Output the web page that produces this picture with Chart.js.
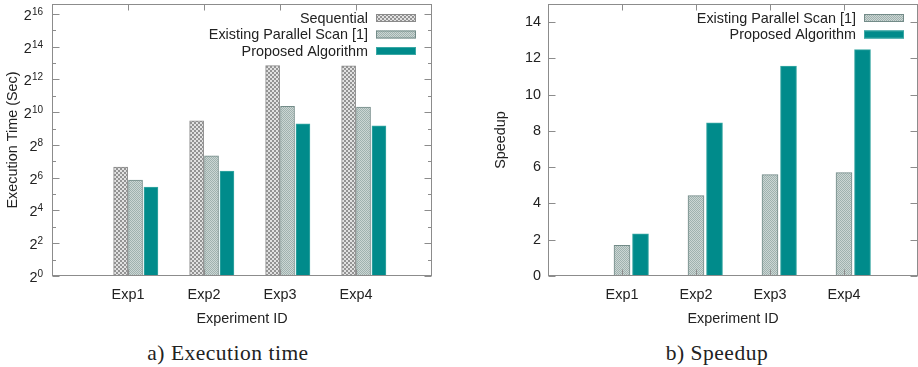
<!DOCTYPE html>
<html>
<head>
<meta charset="utf-8">
<script src="https://cdn.jsdelivr.net/npm/chart.js@4.4.1/dist/chart.umd.min.js"></script>
<style>
body { margin:0; background:#fff; width:918px; height:367px; position:relative; overflow:hidden; }
.box { position:absolute; top:0; }
.caption { position:absolute; top:342px; width:220px; text-align:center; line-height:22px;
  font-family:"Liberation Serif", serif; font-size:21.5px; letter-spacing:0.5px; color:#222; white-space:nowrap; }
</style>
</head>
<body>
<div class="box" style="left:0"><canvas id="timeChart" width="440" height="330"></canvas></div>
<div class="box" style="left:478px"><canvas id="speedChart" width="440" height="330"></canvas></div>
<div class="caption" style="left:118px">a) Execution time</div>
<div class="caption" style="left:607px">b) Speedup</div>
<script>
// values
const categories = ['Exp1', 'Exp2', 'Exp3', 'Exp4'];
const seqTime = [100, 714, 7350, 7330];
const existTime = [58, 162, 1310, 1280];
const propTime = [43, 85, 629, 577];
const existSpeedup = [1.69, 4.43, 5.59, 5.70];
const propSpeedup = [2.33, 8.45, 11.58, 12.48];
const timeExponents = [0,1,2,3,4,5,6,7,8,9,10,11,12,13,14,15,16]; // 2^e ticks, even ones labelled
const speedTicks = [0, 2, 4, 6, 8, 10, 12, 14];

const textColor = '#222';
const frameColor = '#8c8c8c';
const fontFamily = '"Liberation Sans", Arial, sans-serif';
const sansFont = { family: fontFamily, size: 14.4 };

// small checker tiles like gnuplot fill patterns
function makePattern(c1, c2, cell) {
    const p = document.createElement('canvas');
    p.width = cell * 2; p.height = cell * 2;
    const g = p.getContext('2d');
    g.fillStyle = c1; g.fillRect(0, 0, cell * 2, cell * 2);
    g.fillStyle = c2;
    g.fillRect(0, 0, cell, cell);
    g.fillRect(cell, cell, cell, cell);
    return g.createPattern(p, 'repeat');
}

const seqFill = makePattern('#e2e2e2', '#939393', 2);
const existFill = makePattern('#ccd6d4', '#9fb2af', 1);
const propFill = '#008b8b';

// frame with inward ticks, gnuplot style
const framePlugin = {
    id: 'frame',
    afterDatasetsDraw(chart, args, opts) {
        const ctx = chart.ctx, a = chart.chartArea;
        const L = Math.round(a.left) + 0.5, R = Math.round(a.right) - 0.5;
        const T = Math.round(a.top) + 0.5, B = Math.round(a.bottom) - 0.5;
        ctx.save();
        ctx.strokeStyle = frameColor;
        ctx.lineWidth = 1;
        ctx.beginPath();
        chart.scales.y.ticks.forEach(t => {
            const y = Math.round(chart.scales.y.getPixelForValue(t.value)) + 0.5;
            const len = opts.isMinor && opts.isMinor(t.value) ? 3.5 : 7;
            ctx.moveTo(L, y); ctx.lineTo(L + len, y);
            ctx.moveTo(R, y); ctx.lineTo(R - len, y);
        });
        chart.scales.x.ticks.forEach(t => {
            const x = Math.round(chart.scales.x.getPixelForValue(t.value)) + 0.5;
            ctx.moveTo(x, T); ctx.lineTo(x, T + 6);
            ctx.moveTo(x, B); ctx.lineTo(x, B - 6);
        });
        ctx.stroke();
        ctx.strokeRect(L, T, R - L, B - T);

        // power-of-two labels with a real superscript
        if (opts.powLabels) {
            chart.scales.y.ticks.forEach(t => {
                const e = Math.round(Math.log2(t.value));
                if (e % 2) return;
                const y = chart.scales.y.getPixelForValue(t.value);
                const right = a.left - 9;
                ctx.fillStyle = textColor;
                ctx.textAlign = 'right';
                ctx.textBaseline = 'alphabetic';
                ctx.font = '10px ' + fontFamily;
                const ew = ctx.measureText(String(e)).width;
                ctx.fillText(String(e), right, y + 0.8);
                ctx.font = '14.4px ' + fontFamily;
                ctx.fillText('2', right - ew, y + 6);
            });
        }
        ctx.restore();
    }
};

// legend: right aligned text, sample box to its right
const keyPlugin = {
    id: 'key',
    afterDraw(chart, args, opts) {
        const ctx = chart.ctx, a = chart.chartArea;
        const boxRight = a.right - opts.rightGap;
        ctx.save();
        ctx.font = '14.4px ' + fontFamily;
        ctx.textAlign = 'right';
        ctx.textBaseline = 'middle';
        chart.data.datasets.forEach((ds, i) => {
            const y = a.top + 14 + i * 16.5;
            ctx.fillStyle = textColor;
            ctx.fillText(ds.label, boxRight - 48, y + 1);
            ctx.fillStyle = ds.backgroundColor;
            ctx.fillRect(boxRight - 40, y - 4, 40, 8);
            ctx.strokeStyle = ds.borderColor;
            ctx.lineWidth = 1;
            ctx.strokeRect(boxRight - 39.5, y - 3.5, 39, 7);
        });
        ctx.restore();
    }
};

function toPoints(values, shift) {
    return values.map((v, i) => ({ x: i + shift, y: v }));
}

function xAxis() {
    return {
        type: 'linear', min: -1, max: 4, offset: false,
        grid: { display: false, drawTicks: false },
        border: { display: false },
        afterBuildTicks: s => { s.ticks = categories.map((c, i) => ({ value: i })); },
        afterFit: s => { s.height = 54; },
        ticks: { color: textColor, font: sansFont, padding: 10, autoSkip: false, maxRotation: 0,
                 callback: v => categories[v] },
        title: { display: true, text: 'Experiment ID', color: textColor, font: sansFont,
                 padding: { top: 0, bottom: 2.5 } }
    };
}

function fixY(width) {
    return s => { s.width = width; s.paddingTop = 0; s.paddingBottom = 0; };
}

new Chart(document.getElementById('timeChart'), {
    type: 'bar',
    data: {
        datasets: [
            { label: 'Sequential', data: toPoints(seqTime, -0.097), backgroundColor: seqFill,
              borderColor: '#8a8a8a', borderWidth: 1 },
            { label: 'Existing Parallel Scan [1]', data: toPoints(existTime, 0.099), backgroundColor: existFill,
              borderColor: '#738b88', borderWidth: 1 },
            { label: 'Proposed Algorithm', data: toPoints(propTime, 0.302), backgroundColor: propFill,
              borderColor: '#3aa8a4', borderWidth: 1 }
        ]
    },
    options: {
        responsive: false,
        animation: false,
        layout: { padding: { left: 0, right: 8, top: 4, bottom: 0 } },
        datasets: { bar: { grouped: false, barThickness: 14 } },
        plugins: {
            legend: { display: false },
            tooltip: { enabled: false },
            frame: { isMinor: v => Math.round(Math.log2(v)) % 2 === 1, powLabels: true },
            key: { rightGap: 16 }
        },
        scales: {
            x: xAxis(),
            y: {
                type: 'logarithmic', min: 1, max: 100000,
                grid: { display: false, drawTicks: false },
                border: { display: false },
                afterBuildTicks: s => { s.ticks = timeExponents.map(e => ({ value: Math.pow(2, e) })); },
                afterFit: fixY(52),
                ticks: { display: false },
                title: { display: true, text: 'Execution Time (Sec)', color: textColor, font: sansFont,
                         padding: { top: 4.3, bottom: 0 } }
            }
        }
    },
    plugins: [framePlugin, keyPlugin]
});

new Chart(document.getElementById('speedChart'), {
    type: 'bar',
    data: {
        datasets: [
            { label: 'Existing Parallel Scan [1]', data: toPoints(existSpeedup, 0), backgroundColor: existFill,
              borderColor: '#738b88', borderWidth: 1 },
            { label: 'Proposed Algorithm', data: toPoints(propSpeedup, 0.25), backgroundColor: propFill,
              borderColor: '#3aa8a4', borderWidth: 1 }
        ]
    },
    options: {
        responsive: false,
        animation: false,
        layout: { padding: { left: 0, right: 0, top: 4, bottom: 0 } },
        datasets: { bar: { grouped: false, barThickness: 16 } },
        plugins: {
            legend: { display: false },
            tooltip: { enabled: false },
            key: { rightGap: 14 }
        },
        scales: {
            x: xAxis(),
            y: {
                type: 'linear', min: 0, max: 15,
                grid: { display: false, drawTicks: false },
                border: { display: false },
                afterBuildTicks: s => { s.ticks = speedTicks.map(v => ({ value: v })); },
                afterFit: fixY(70),
                ticks: { color: textColor, font: sansFont, padding: 7, autoSkip: false },
                title: { display: true, text: 'Speedup', color: textColor, font: sansFont,
                         padding: { top: 14.6, bottom: 0 } }
            }
        }
    },
    plugins: [framePlugin, keyPlugin]
});
</script>
</body>
</html>
